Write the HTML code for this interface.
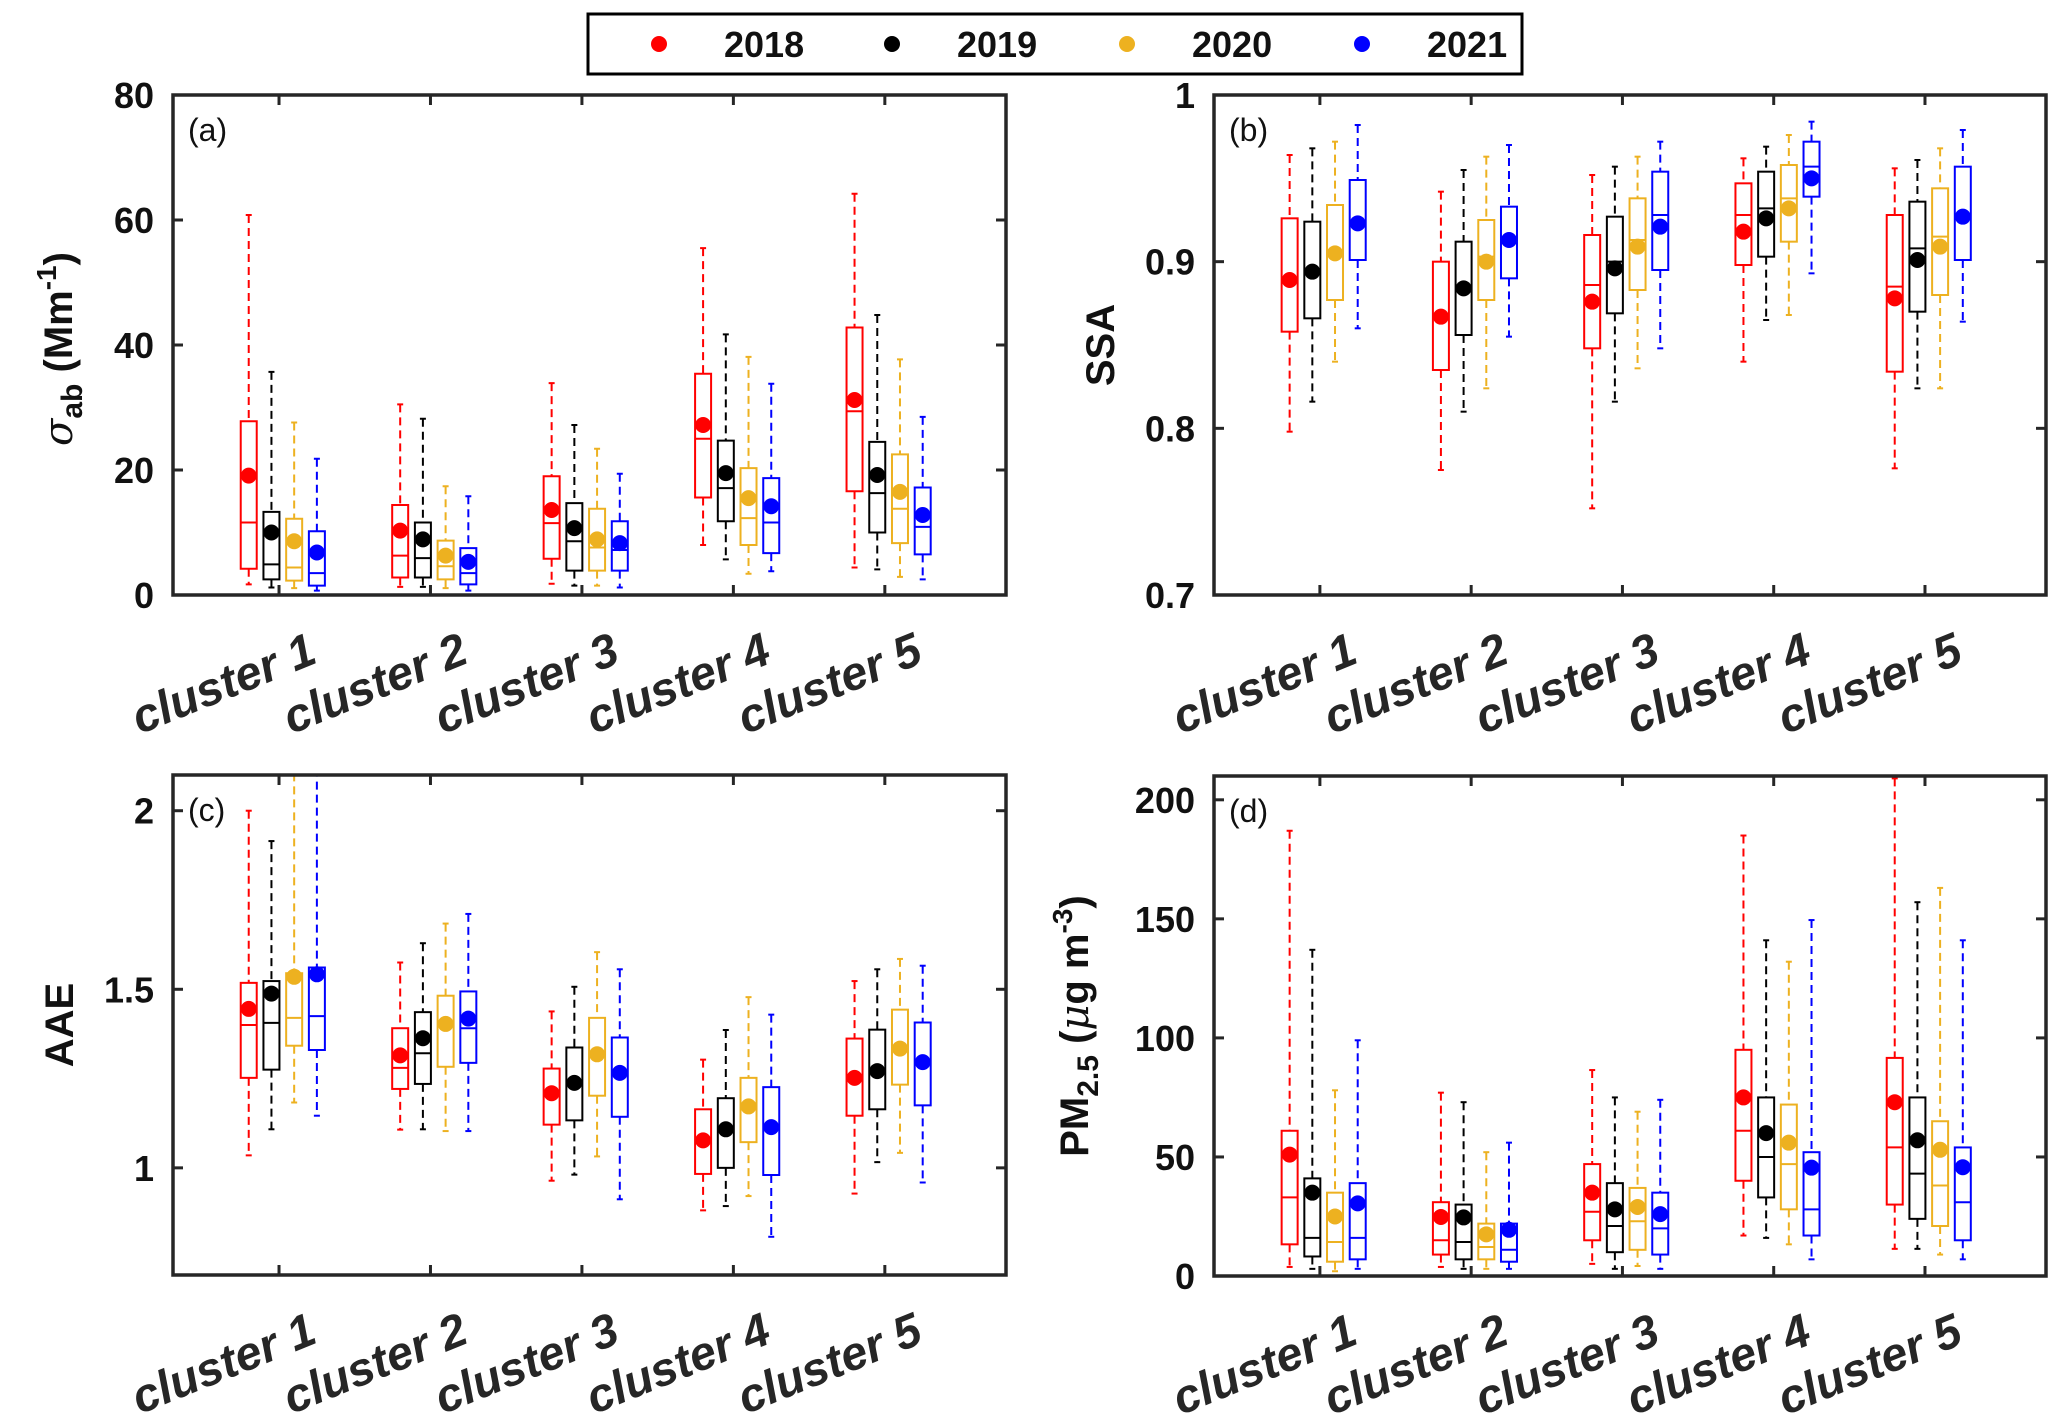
<!DOCTYPE html>
<html><head><meta charset="utf-8"><style>
html,body{margin:0;padding:0;background:#fff}
svg{display:block}
text{font-family:"Liberation Sans",Arial,sans-serif}
</style></head><body>
<svg id="fig" xmlns="http://www.w3.org/2000/svg" width="2067" height="1424" viewBox="0 0 2067 1424">
<g id="legend">
<rect x="588" y="14" width="934" height="60" fill="#fff" stroke="#000" stroke-width="3"/>
</g>
</svg>
<script>
// ---- shared categories ----
const clusters = ["cluster 1","cluster 2","cluster 3","cluster 4","cluster 5"];
const years = ["2018","2019","2020","2021"];
const colors = ["#ff0000","#000000","#EDB120","#0000ff"];

// ---- panel (a) sigma_ab ----  rows: clusters, cols: years
const aHigh = [[60.8,35.7,27.6,21.8],[30.5,28.2,17.4,15.8],[33.9,27.2,23.4,19.4],[55.5,41.7,38.1,33.8],[64.2,44.8,37.7,28.5]];
const aQ3   = [[27.8,13.3,12.2,10.2],[14.4,11.6,8.7,7.5],[19.0,14.7,13.8,11.8],[35.4,24.7,20.3,18.7],[42.8,24.5,22.5,17.2]];
const aMed  = [[11.6,4.9,4.4,3.5],[6.3,5.9,4.6,3.5],[11.5,8.6,7.6,7.2],[25.0,17.1,12.3,11.6],[29.4,16.3,13.8,10.9]];
const aQ1   = [[4.2,2.5,2.3,1.5],[2.8,2.8,2.5,1.7],[5.8,3.9,3.9,3.9],[15.6,11.8,8.0,6.7],[16.6,10.0,8.3,6.5]];
const aLow  = [[1.7,1.2,1.1,0.7],[1.3,1.3,1.1,0.7],[1.8,1.5,1.5,1.2],[8.0,5.7,3.4,3.8],[4.4,4.1,2.9,2.5]];
const aMean = [[19.1,10.0,8.6,6.8],[10.3,8.9,6.3,5.3],[13.6,10.7,8.9,8.3],[27.2,19.5,15.5,14.2],[31.2,19.2,16.5,12.8]];
const aTicks = [0,20,40,60,80];
const aTickLabels = ["0","20","40","60","80"];

// ---- panel (b) SSA ----
const bHigh = [[0.964,0.968,0.972,0.982],[0.942,0.955,0.963,0.970],[0.952,0.957,0.963,0.972],[0.962,0.969,0.976,0.984],[0.956,0.961,0.968,0.979]];
const bQ3   = [[0.926,0.924,0.934,0.949],[0.900,0.912,0.925,0.933],[0.916,0.927,0.938,0.954],[0.947,0.954,0.958,0.972],[0.928,0.936,0.944,0.957]];
const bMed  = [[0.889,0.894,0.905,0.923],[0.867,0.884,0.903,0.913],[0.886,0.900,0.913,0.928],[0.928,0.932,0.938,0.957],[0.885,0.908,0.915,0.927]];
const bQ1   = [[0.858,0.866,0.877,0.901],[0.835,0.856,0.877,0.890],[0.848,0.869,0.883,0.895],[0.898,0.903,0.912,0.939],[0.834,0.870,0.880,0.901]];
const bLow  = [[0.798,0.816,0.840,0.860],[0.775,0.810,0.824,0.855],[0.752,0.816,0.836,0.848],[0.840,0.865,0.868,0.893],[0.776,0.824,0.824,0.864]];
const bMean = [[0.889,0.894,0.905,0.923],[0.867,0.884,0.900,0.913],[0.876,0.896,0.909,0.921],[0.918,0.926,0.932,0.950],[0.878,0.901,0.909,0.927]];
const bTicks = [0.7,0.8,0.9,1];
const bTickLabels = ["0.7","0.8","0.9","1"];

// ---- panel (c) AAE ----
const cHigh = [[2.00,1.915,2.25,2.3],[1.575,1.629,1.684,1.711],[1.438,1.507,1.604,1.556],[1.303,1.386,1.478,1.429],[1.523,1.556,1.585,1.566]];
const cQ3   = [[1.518,1.523,1.545,1.561],[1.391,1.436,1.482,1.494],[1.278,1.337,1.420,1.365],[1.164,1.195,1.252,1.226],[1.362,1.387,1.443,1.407]];
const cMed  = [[1.400,1.406,1.420,1.425],[1.280,1.321,1.400,1.391],[1.209,1.238,1.318,1.266],[1.077,1.108,1.172,1.114],[1.252,1.271,1.334,1.296]];
const cQ1   = [[1.252,1.275,1.342,1.330],[1.221,1.235,1.283,1.294],[1.121,1.133,1.202,1.143],[0.983,1.000,1.072,0.980],[1.146,1.164,1.233,1.175]];
const cLow  = [[1.035,1.108,1.183,1.146],[1.107,1.108,1.103,1.103],[0.964,0.981,1.032,0.912],[0.881,0.893,0.921,0.807],[0.928,1.016,1.042,0.959]];
const cMean = [[1.445,1.488,1.535,1.542],[1.315,1.363,1.403,1.418],[1.209,1.238,1.318,1.266],[1.077,1.108,1.172,1.114],[1.252,1.271,1.334,1.296]];
const cTicks = [1,1.5,2];
const cTickLabels = ["1","1.5","2"];

// ---- panel (d) PM2.5 ----
const dHigh = [[187,137,78,99],[77,73,52,56],[86.5,75,69,74],[185,141,132,149.5],[209,157,163,141]];
const dQ3   = [[61,41,35,39],[31,30,22,22],[47,39,37,35],[95,75,72,52],[91.6,75,65,54]];
const dMed  = [[33,16,14.3,16],[15,14.3,12.2,11],[27,21,23,20],[61,50,47,28],[54,43,38,31]];
const dQ1   = [[13.3,8.2,6,7],[9,7,7,6],[15,10,11,9],[40,33,28,17],[30,24,21,15]];
const dLow  = [[3.8,3,2,3],[3.8,3,3,3],[5.1,3,4.2,3],[17,16,13.3,7],[11.4,11.4,9,7]];
const dMean = [[51,35,25,30.5],[24.8,24.6,17.5,19.4],[35,28,29,26],[75,60,56,45.5],[73,57,53,45.7]];
const dTicks = [0,50,100,150,200];
const dTickLabels = ["0","50","100","150","200"];

const NS = "http://www.w3.org/2000/svg";
const svg = document.getElementById("fig");
function mk(tag, attrs, parent){
  const e = document.createElementNS(NS, tag);
  for (const k in attrs) e.setAttribute(k, attrs[k]);
  (parent||svg).appendChild(e);
  return e;
}
const offsets = [-0.2,-0.05,0.1,0.25];
const boxW = 16;

function panel(id, box, ylim, ticks, tickLabels, S, letter, ylabelFn){
  const [L,T,R,B] = box;
  const xs = t => L + (t-0.3)/(5.5)*(R-L);
  const ys = v => B - (v-ylim[0])/(ylim[1]-ylim[0])*(B-T);
  const g = mk("g", {});
  
  
  const defs = mk("defs", {}, g);
  const cp = mk("clipPath", {id:"clip-"+id}, defs);
  mk("rect", {x:L, y:T, width:R-L, height:B-T}, cp);
  const plot = mk("g", {"clip-path":"url(#clip-"+id+")"}, g);
  for (let c=0;c<clusters.length;c++){
    for (let y=0;y<years.length;y++){
      const cx = xs(c+1+offsets[y]);
      const col = colors[y];
      const bg = mk("g", {}, plot);
      
      
      const hi=S.hi[c][y], q3=S.q3[c][y], md=S.md[c][y], q1=S.q1[c][y], lo=S.lo[c][y], mn=S.mn[c][y];
      mk("line",{x1:cx,x2:cx,y1:ys(hi),y2:ys(q3),stroke:col,"stroke-width":2,"stroke-dasharray":"8,5"},bg);
      mk("line",{x1:cx,x2:cx,y1:ys(q1),y2:ys(lo),stroke:col,"stroke-width":2,"stroke-dasharray":"8,5"},bg);
      mk("line",{x1:cx-3,x2:cx+3,y1:ys(hi),y2:ys(hi),stroke:col,"stroke-width":2},bg);
      mk("line",{x1:cx-3,x2:cx+3,y1:ys(lo),y2:ys(lo),stroke:col,"stroke-width":2},bg);
      mk("rect",{x:cx-boxW/2,y:ys(q3),width:boxW,height:Math.max(0,ys(q1)-ys(q3)),fill:"none",stroke:col,"stroke-width":2},bg);
      mk("line",{x1:cx-boxW/2,x2:cx+boxW/2,y1:ys(md),y2:ys(md),stroke:col,"stroke-width":2},bg);
      const dot = mk("circle",{cx:cx,cy:ys(mn),r:8,fill:col},bg);
      
      
    }
  }
  const fr = mk("rect",{x:L,y:T,width:R-L,height:B-T,fill:"none",stroke:"#262626","stroke-width":3.5},g);
  
  
  for (let c=0;c<clusters.length;c++){
    const x = xs(c+1);
    mk("line",{x1:x,x2:x,y1:B,y2:B-10,stroke:"#262626","stroke-width":3},g);
    mk("line",{x1:x,x2:x,y1:T,y2:T+10,stroke:"#262626","stroke-width":3},g);
    const ax = x+40, ay = B+67;
    const tx = mk("text",{x:ax,y:ay,"text-anchor":"end","font-size":47,"font-weight":"bold","font-style":"italic",fill:"#262626",transform:"rotate(-22 "+ax+" "+ay+")"},g);
    tx.textContent = clusters[c];
    
    
  }
  for (let i=0;i<ticks.length;i++){
    const y = ys(ticks[i]);
    mk("line",{x1:L,x2:L+10,y1:y,y2:y,stroke:"#262626","stroke-width":3},g);
    mk("line",{x1:R,x2:R-10,y1:y,y2:y,stroke:"#262626","stroke-width":3},g);
    const tl = mk("text",{x:L-19,y:y+13,"text-anchor":"end","font-size":36,"font-weight":"bold",fill:"#111"},g);
    tl.textContent = tickLabels[i];
    
    
  }
  const lt = mk("text",{x:L+15,y:T+46,"font-size":32,fill:"#111"},g);
  lt.textContent = letter;
  
  
  ylabelFn(g, L, (T+B)/2);
}

function ylab(g, cx, cy, html){
  const t = mk("text",{x:0,y:0,"text-anchor":"middle","font-size":40,"font-weight":"bold",fill:"#111",transform:"translate("+cx+" "+cy+") rotate(-90)"},g);
  t.innerHTML = html;
  
  
}

panel("a",[173,95,1006,595],[0,80],aTicks,aTickLabels,{hi:aHigh,q3:aQ3,md:aMed,q1:aQ1,lo:aLow,mn:aMean},"(a)",
  (g,L,c)=>ylab(g,72,c+4,'<tspan font-style="italic" font-weight="normal" font-family="DejaVu Serif,serif">σ</tspan><tspan font-size="30" dy="10">ab</tspan><tspan dy="-10"> (Mm</tspan><tspan font-size="28" dy="-16">-1</tspan><tspan dy="16">)</tspan>'));
panel("b",[1214,95,2046,595],[0.7,1],bTicks,bTickLabels,{hi:bHigh,q3:bQ3,md:bMed,q1:bQ1,lo:bLow,mn:bMean},"(b)",
  (g,L,c)=>ylab(g,1114,c,'SSA'));
panel("c",[173,775,1006,1275],[0.7,2.1],cTicks,cTickLabels,{hi:cHigh,q3:cQ3,md:cMed,q1:cQ1,lo:cLow,mn:cMean},"(c)",
  (g,L,c)=>ylab(g,73,c,'AAE'));
panel("d",[1214,776,2046,1276],[0,210],dTicks,dTickLabels,{hi:dHigh,q3:dQ3,md:dMed,q1:dQ1,lo:dLow,mn:dMean},"(d)",
  (g,L,c)=>ylab(g,1088,c,'PM<tspan font-size="30" dy="10">2.5</tspan><tspan dy="-10"> (</tspan><tspan font-style="italic" font-weight="normal" font-family="DejaVu Serif,serif">μ</tspan><tspan>g m</tspan><tspan font-size="28" dy="-16">-3</tspan><tspan dy="16">)</tspan>'));

const legendDotX = [659,892,1127,1362];
const lg = document.getElementById("legend");
for (let i=0;i<years.length;i++){
  const e = mk("g",{},lg);
  
  
  mk("circle",{cx:legendDotX[i],cy:44,r:8,fill:colors[i]},e);
  const t = mk("text",{x:legendDotX[i]+65,y:57,"font-size":36,"font-weight":"bold",fill:"#111"},e);
  t.textContent = years[i];
}
</script>
</body></html>
